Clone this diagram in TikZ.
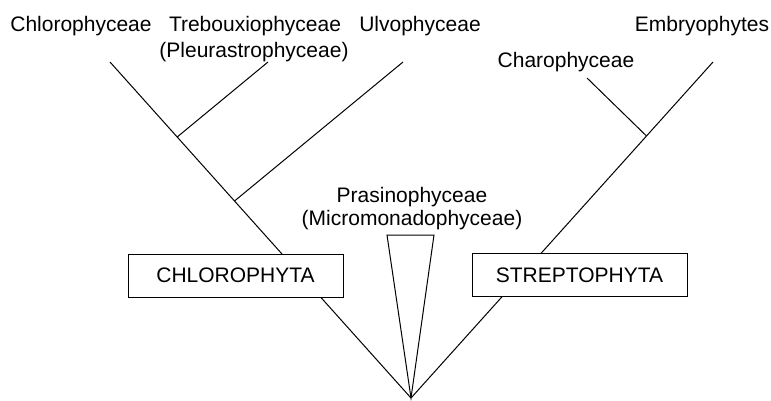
\documentclass[tikz,border=0pt]{standalone}
\usepackage{fontspec}
\setmainfont{Liberation Sans}
\usetikzlibrary{calc}
\begin{document}
\begin{tikzpicture}[x=1pt,y=-1pt,line width=1pt,
  lab/.style={anchor=base,inner sep=0pt,font=\fontsize{21}{25}\selectfont},
  grpbox/.style={draw,fill=white,minimum width=215pt,minimum height=43pt,inner sep=0pt,font=\fontsize{21}{25}\selectfont}]
\useasboundingbox (0,0) rectangle (771,400);
% tips and root
\coordinate (root) at (411,398);
\coordinate (chlT) at (110,62);
\coordinate (treT) at (268,62);
\coordinate (ulvT) at (403,62);
\coordinate (embT) at (713,62);
\coordinate (chaT) at (587,78);
\coordinate (triL) at (387,235);
\coordinate (triR) at (434,235);
% junctions
\coordinate (treJ) at ($(chlT)!0.2232!(root)$);
\coordinate (ulvJ) at ($(chlT)!0.4137!(root)$);
\coordinate (chaJ) at ($(embT)!0.2202!(root)$);
% branches
\draw (chlT) -- (root);
\draw (embT) -- (root);
\draw (treT) -- (treJ);
\draw (ulvT) -- (ulvJ);
\draw (chaT) -- (chaJ);
\draw (triL) -- (triR) -- (root) -- cycle;
% group boxes
\node[grpbox] (chlorophyta) at (235.5,275.5) {CHLOROPHYTA};
\node[grpbox] (streptophyta) at (579.5,275) {STREPTOPHYTA};
% labels
\node[lab] (chl) at (81,31) {Chlorophyceae};
\node[lab] (tre) at (255,31) {Trebouxiophyceae};
\node[lab] (ple) at (254,57) {(Pleurastrophyceae)};
\node[lab] (ulv) at (420,31) {Ulvophyceae};
\node[lab] (cha) at (566,67) {Charophyceae};
\node[lab] (emb) at (702,31) {Embryophytes};
\node[lab] (pra) at (412,202) {Prasinophyceae};
\node[lab] (mic) at (412,225) {(Micromonadophyceae)};
\end{tikzpicture}
\end{document}
